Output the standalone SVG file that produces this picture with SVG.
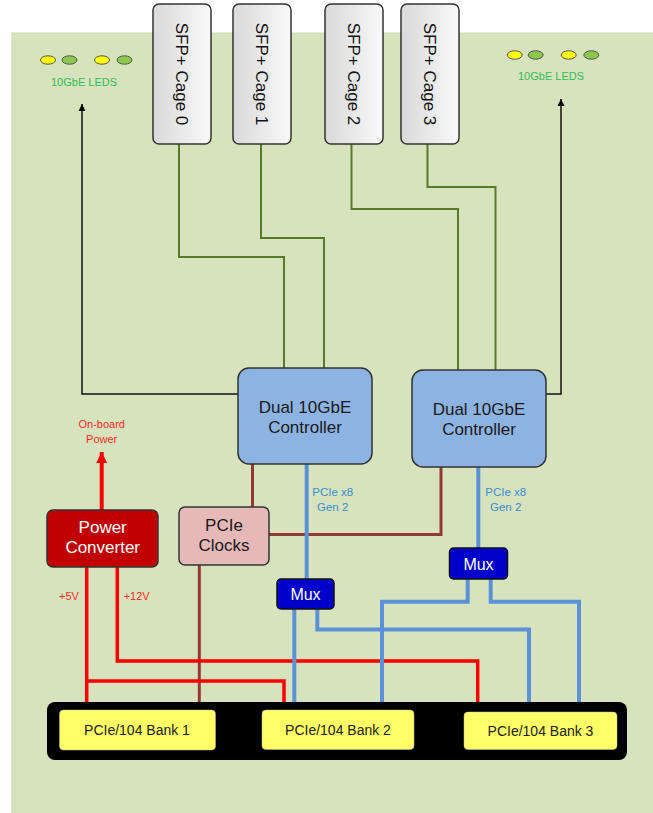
<svg xmlns="http://www.w3.org/2000/svg" width="653" height="813" viewBox="0 0 653 813">
<defs>
<linearGradient id="cageGrad" x1="0" y1="0" x2="1" y2="0">
<stop offset="0" stop-color="#d9d9d9"/>
<stop offset="1" stop-color="#f9f9f9"/>
</linearGradient>
<marker id="arrBlack" viewBox="0 0 10 10" refX="10" refY="5" markerWidth="7" markerHeight="8" markerUnits="userSpaceOnUse" orient="auto">
<path d="M0,0 L10,5 L0,10 z" fill="#000"/>
</marker>
<marker id="arrRed" viewBox="0 0 10 10" refX="10" refY="5" markerWidth="11" markerHeight="13" markerUnits="userSpaceOnUse" orient="auto">
<path d="M0,0 L10,5 L0,10 z" fill="#ff0000"/>
</marker>
</defs>
<style>
text { font-family: "Liberation Sans", Arial, sans-serif; }
.cage { fill: url(#cageGrad); stroke: #333; stroke-width: 1.5; }
.cagetxt { font-size: 17px; fill: #111; text-anchor: middle; }
.ctrl { fill: #8db3e2; stroke: #333; stroke-width: 1.5; }
.ctrltxt { font-size: 17px; fill: #1a1a1a; text-anchor: middle; }
.mux { fill: #0000cc; stroke: #111; stroke-width: 1.5; }
.muxtxt { font-size: 16px; fill: #fff; text-anchor: middle; }
.bank { fill: #ffff66; stroke: #bbb; stroke-width: 0.5; }
.banktxt { font-size: 14px; fill: #222; text-anchor: middle; }
.ledtxt { font-size: 11px; fill: #33bb55; text-anchor: middle; }
.pcietxt { font-size: 11.5px; fill: #3a8dd6; text-anchor: middle; }
.redtxt { font-size: 11px; fill: #ff2a2a; text-anchor: middle; }
.ledY { fill: #ffff00; stroke: #555; stroke-width: 1; }
.ledG { fill: #8cc84b; stroke: #555; stroke-width: 1; }
.sfp { fill: none; stroke: #5a7a2a; stroke-width: 2; }
.blk { fill: none; stroke: #111; stroke-width: 1.5; }
.pcie { fill: none; stroke: #5b91d8; stroke-width: 4; }
.clk { fill: none; stroke: #953735; stroke-width: 3; }
.pwr { fill: none; stroke: #ff0000; stroke-width: 3.5; }
</style>

<!-- board -->
<rect id="board" x="12" y="33" width="660" height="800" fill="#d7e3bd" stroke="#c8d8ae" stroke-width="1"/>

<!-- LEDs left -->
<g id="leds-left">
<ellipse class="ledY" cx="48" cy="60" rx="7.5" ry="4.2"/>
<ellipse class="ledG" cx="69.5" cy="60" rx="7.5" ry="4.2"/>
<ellipse class="ledY" cx="102" cy="60" rx="7.5" ry="4.2"/>
<ellipse class="ledG" cx="124.5" cy="60" rx="7.5" ry="4.2"/>
<text class="ledtxt" x="84" y="86">10GbE LEDS</text>
</g>
<!-- LEDs right -->
<g id="leds-right">
<ellipse class="ledY" cx="514.7" cy="55" rx="7.5" ry="4.2"/>
<ellipse class="ledG" cx="535.7" cy="55" rx="7.5" ry="4.2"/>
<ellipse class="ledY" cx="568.7" cy="55" rx="7.5" ry="4.2"/>
<ellipse class="ledG" cx="591.3" cy="55" rx="7.5" ry="4.2"/>
<text class="ledtxt" x="551" y="80">10GbE LEDS</text>
</g>

<!-- connectors -->
<g id="connectors">
<!-- SFP to controllers -->
<polyline class="sfp" points="179,144 179,257 284,257 284,368"/>
<polyline class="sfp" points="261,144 261,238 324,238 324,368"/>
<polyline class="sfp" points="351.5,144 351.5,209 458,209 458,370"/>
<polyline class="sfp" points="427.5,144 427.5,187 495.5,187 495.5,370"/>
<!-- LED arrows -->
<polyline class="blk" points="238,394 82,394 82,104" marker-end="url(#arrBlack)"/>
<polyline class="blk" points="546,394 561,394 561,99" marker-end="url(#arrBlack)"/>
<!-- On-board power -->
<line x1="101.7" y1="510" x2="101.7" y2="452" stroke="#ff0000" stroke-width="4" marker-end="url(#arrRed)"/>
<!-- clock lines -->
<line class="clk" x1="252.5" y1="464" x2="252.5" y2="507"/>
<polyline class="clk" points="269,534.5 441,534.5 441,467"/>
<line class="clk" x1="199.3" y1="565" x2="199.3" y2="702"/>
<!-- power lines -->
<polyline class="pwr" points="86.7,567 86.7,702"/>
<polyline class="pwr" points="86.7,681 284,681 284,702"/>
<polyline class="pwr" points="117.3,567 117.3,661 477.7,661 477.7,702"/>
<!-- PCIe lines -->
<line class="pcie" x1="306.7" y1="464" x2="306.7" y2="579"/>
<line class="pcie" x1="478.3" y1="467" x2="478.3" y2="548"/>
<line class="pcie" x1="294.3" y1="609" x2="294.3" y2="702"/>
<polyline class="pcie" points="317.3,609 317.3,629.5 529,629.5 529,702"/>
<polyline class="pcie" points="467.7,579 467.7,601.7 382,601.7 382,702"/>
<polyline class="pcie" points="490.7,579 490.7,601.7 579,601.7 579,702"/>
</g>

<!-- labels on connectors -->
<text class="redtxt" x="101.7" y="428">On-board</text>
<text class="redtxt" x="101.7" y="443">Power</text>
<text class="redtxt" x="69" y="600">+5V</text>
<text class="redtxt" x="136.7" y="600">+12V</text>
<text class="pcietxt" x="332.7" y="495.5">PCIe x8</text>
<text class="pcietxt" x="332.7" y="510.5">Gen 2</text>
<text class="pcietxt" x="505.7" y="495.5">PCIe x8</text>
<text class="pcietxt" x="505.7" y="510.5">Gen 2</text>

<!-- SFP cages -->
<g id="cage0">
<rect class="cage" x="153" y="4" width="58" height="140" rx="6"/>
<text class="cagetxt" transform="translate(182,74) rotate(90)" x="0" y="6">SFP+ Cage 0</text>
</g>
<g id="cage1">
<rect class="cage" x="233" y="4" width="58" height="140" rx="6"/>
<text class="cagetxt" transform="translate(262,74) rotate(90)" x="0" y="6">SFP+ Cage 1</text>
</g>
<g id="cage2">
<rect class="cage" x="325" y="4" width="58" height="140" rx="6"/>
<text class="cagetxt" transform="translate(354,74) rotate(90)" x="0" y="6">SFP+ Cage 2</text>
</g>
<g id="cage3">
<rect class="cage" x="401" y="4" width="58" height="140" rx="6"/>
<text class="cagetxt" transform="translate(430,74) rotate(90)" x="0" y="6">SFP+ Cage 3</text>
</g>

<!-- Controllers -->
<g id="controller1">
<rect class="ctrl" x="238" y="368" width="134" height="96" rx="11"/>
<text class="ctrltxt" x="305" y="413">Dual 10GbE</text>
<text class="ctrltxt" x="305" y="433">Controller</text>
</g>
<g id="controller2">
<rect class="ctrl" x="412" y="370" width="134" height="97" rx="11"/>
<text class="ctrltxt" x="479" y="415">Dual 10GbE</text>
<text class="ctrltxt" x="479" y="435">Controller</text>
</g>

<!-- Power converter -->
<g id="power-converter">
<rect x="47" y="510" width="111" height="57" rx="6" fill="#c00000" stroke="#333" stroke-width="1.5"/>
<text class="ctrltxt" x="102.7" y="533" style="fill:#fff">Power</text>
<text class="ctrltxt" x="102.7" y="553" style="fill:#fff">Converter</text>
</g>

<!-- PCIe clocks -->
<g id="pcie-clocks">
<rect x="179" y="507" width="90" height="58" rx="6" fill="#e6b9b8" stroke="#333" stroke-width="1.5"/>
<text class="ctrltxt" x="224" y="531">PCIe</text>
<text class="ctrltxt" x="224" y="551">Clocks</text>
</g>

<!-- Muxes -->
<g id="mux1">
<rect class="mux" x="277" y="579" width="57" height="30" rx="4"/>
<text class="muxtxt" x="305.5" y="600">Mux</text>
</g>
<g id="mux2">
<rect class="mux" x="449.5" y="548" width="58" height="31" rx="4"/>
<text class="muxtxt" x="478.5" y="569.5">Mux</text>
</g>

<!-- Bank bar -->
<g id="bank-bar">
<rect x="47" y="702" width="580" height="58" rx="8" fill="#000"/>
</g>
<g id="bank1">
<rect class="bank" x="59.5" y="710" width="156" height="40" rx="4"/>
<text class="banktxt" x="137" y="735">PCIe/104 Bank 1</text>
</g>
<g id="bank2">
<rect class="bank" x="262" y="710" width="152" height="39.5" rx="4"/>
<text class="banktxt" x="338" y="735">PCIe/104 Bank 2</text>
</g>
<g id="bank3">
<rect class="bank" x="464" y="712" width="153" height="37.5" rx="4"/>
<text class="banktxt" x="540.5" y="736">PCIe/104 Bank 3</text>
</g>
</svg>
